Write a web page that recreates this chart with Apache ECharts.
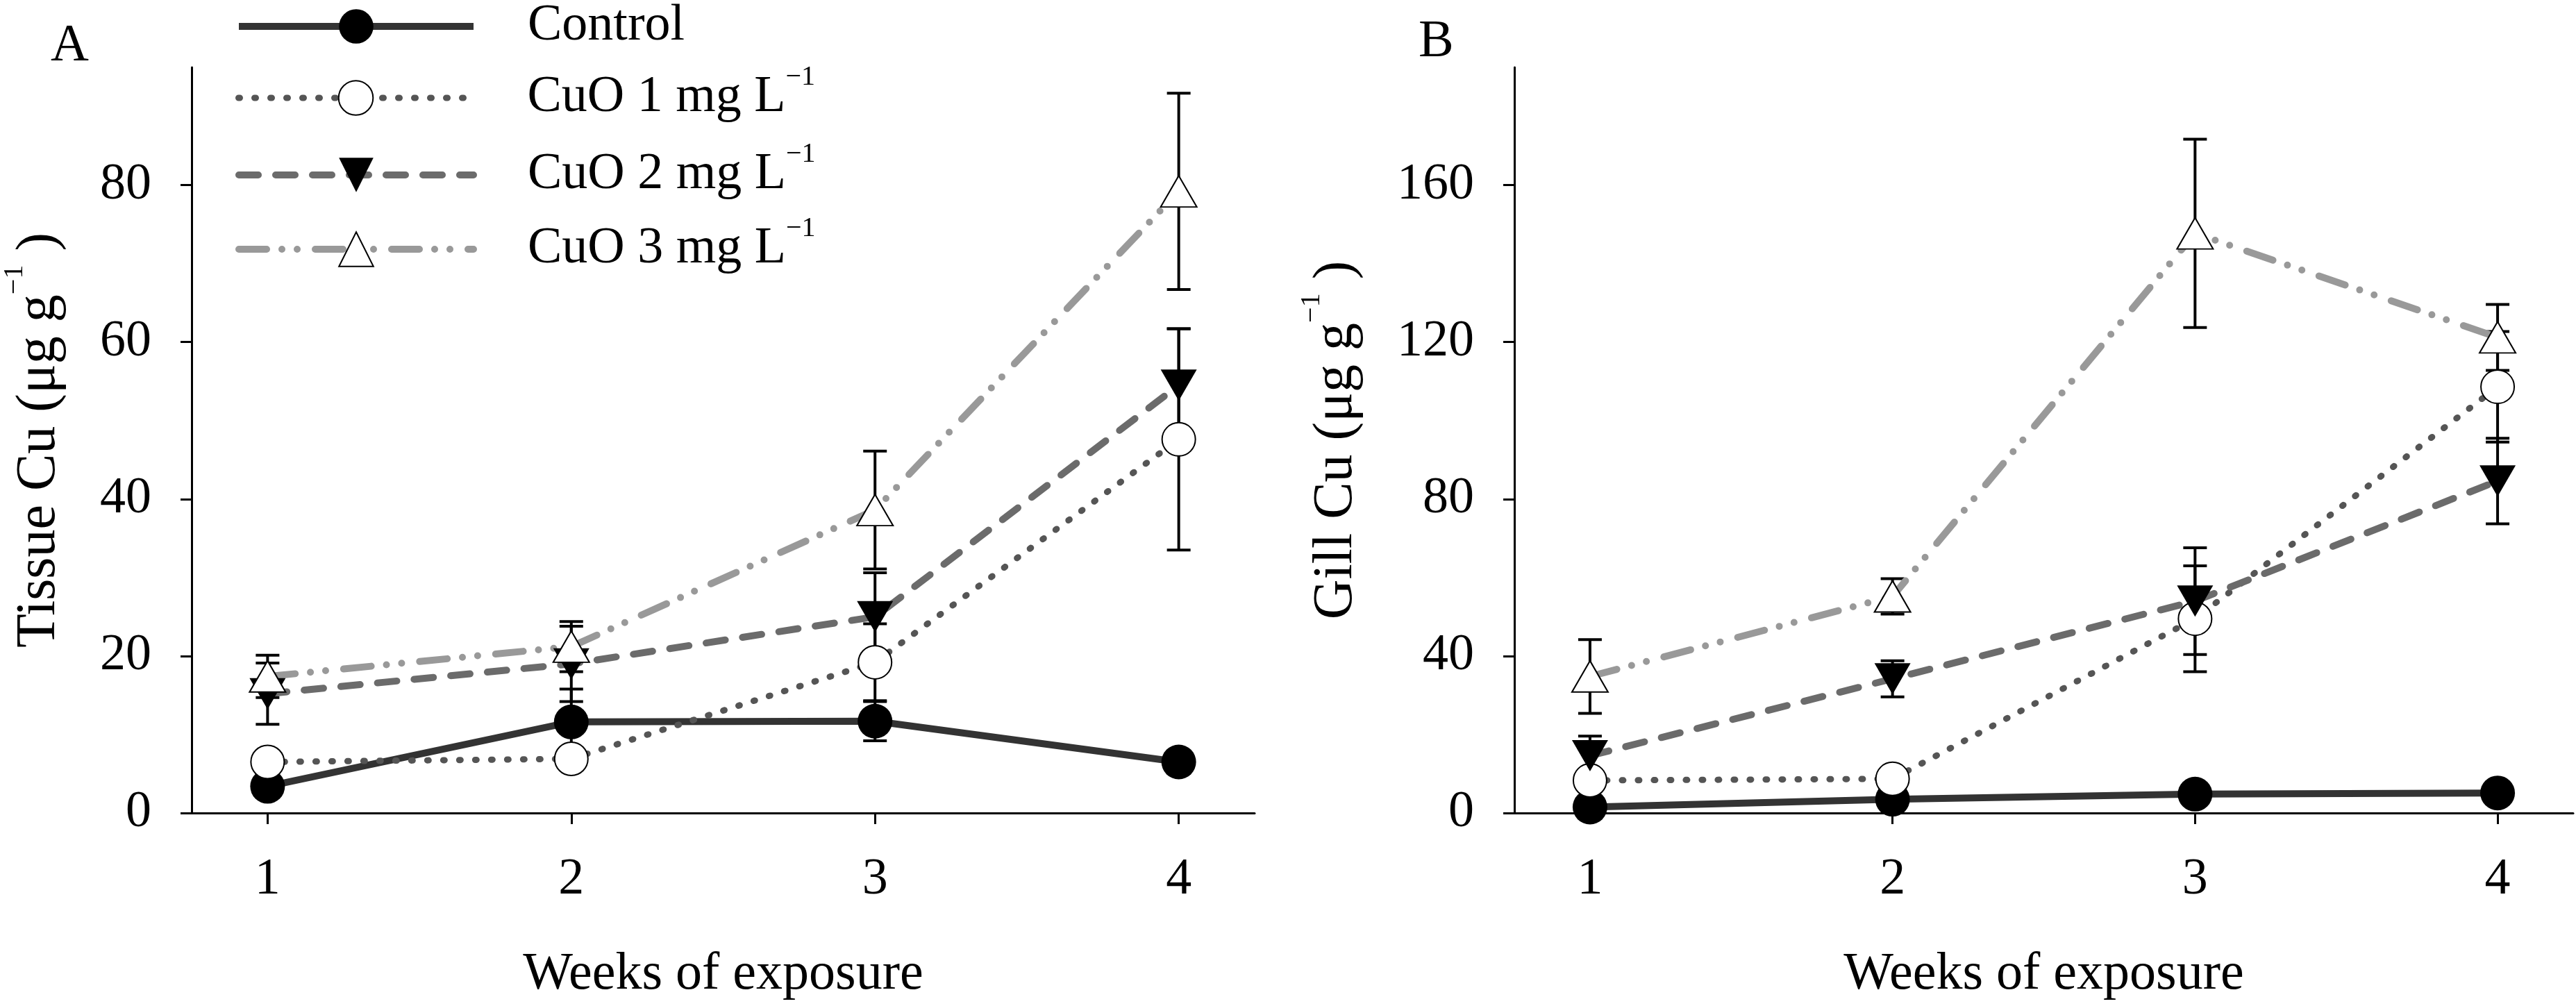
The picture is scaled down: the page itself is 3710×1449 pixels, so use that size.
<!DOCTYPE html>
<html>
<head>
<meta charset="utf-8">
<script src="https://cdn.jsdelivr.net/npm/echarts@6/dist/echarts.min.js"></script>
<style>
  html, body { margin: 0; padding: 0; background: #fff; }
  #chart { width: 3710px; height: 1449px; }
</style>
</head>
<body>
<div id="chart"></div>
<script>
// weeks of exposure
var weeks = [1, 2, 3, 4];
var xTicks = [1, 2, 3, 4];
var tissueTicks = [0, 20, 40, 60, 80];
var gillTicks = [0, 40, 80, 120, 160];
var seriesNames = ["Control", "CuO 1 mg L−1", "CuO 2 mg L−1", "CuO 3 mg L−1"];

// A: tissue Cu (mean, SE)
var tissueControl = [3.4, 11.6, 11.7, 6.5];
var tissueControlSE = [0.6, 4.2, 2.5, 0.8];
var tissueCuO1 = [6.5, 6.9, 19.2, 47.6];
var tissueCuO1SE = [0.9, 0.8, 4.9, 14.1];
var tissueCuO2 = [15.2, 19.0, 25.0, 54.5];
var tissueCuO2SE = [3.9, 4.8, 5.6, 7.2];
var tissueCuO3 = [17.4, 21.2, 38.6, 79.2];
var tissueCuO3SE = [2.7, 3.2, 7.5, 12.5];

// B: gill Cu (mean, SE)
var gillControl = [1.5, 3.5, 4.8, 5.1];
var gillControlSE = [0.8, 0.8, 1.0, 1.0];
var gillCuO1 = [8.3, 8.7, 49.5, 108.6];
var gillCuO1SE = [1.5, 1.5, 13.5, 14.1];
var gillCuO2 = [14.6, 34.2, 54.0, 84.6];
var gillCuO2SE = [5.0, 4.6, 13.6, 10.9];
var gillCuO3 = [34.8, 55.2, 147.7, 121.2];
var gillCuO3SE = [9.4, 4.5, 24.0, 8.4];

var FONT = "'Liberation Serif', 'Times New Roman', serif";
var myChart = echarts.init(document.getElementById("chart"));

// look of each treatment
var styles = [
  { line: { color: "#333", width: 10, type: "solid" },
    symbol: "circle", size: 50, item: { color: "#000" } },
  { line: { color: "#555", width: 9, type: [2, 21], cap: "round" },
    symbol: "circle", size: 48, item: { color: "#fff", borderColor: "#000", borderWidth: 2 } },
  { line: { color: "#6b6b6b", width: 10, type: [28, 25], cap: "round" },
    symbol: "path://M0,0 L10,0 L5,8.66 Z", size: [52, 45], item: { color: "#000" } },
  { line: { color: "#999", width: 10, type: [40, 22, 0, 22, 0, 26], cap: "round" },
    symbol: "triangle", size: [52, 45], item: { color: "#fff", borderColor: "#000", borderWidth: 2 } }
];

function pairs(v) {
  return weeks.map(function(w, i) { return [w, v[i]]; });
}
function bars(v, e) {
  return weeks.map(function(w, i) { return [w, v[i] - e[i], v[i] + e[i]]; });
}

// error bar: vertical line + two caps
function renderErr(params, api) {
  var x = api.value(0);
  var lo = api.coord([x, api.value(1)]);
  var hi = api.coord([x, api.value(2)]);
  var hw = 17;
  var st = { stroke: "#000", lineWidth: 4 };
  return {
    type: "group",
    children: [
      { type: "line", shape: { x1: hi[0], y1: hi[1], x2: lo[0], y2: lo[1] }, style: st },
      { type: "line", shape: { x1: hi[0] - hw, y1: hi[1], x2: hi[0] + hw, y2: hi[1] }, style: st },
      { type: "line", shape: { x1: lo[0] - hw, y1: lo[1], x2: lo[0] + hw, y2: lo[1] }, style: st }
    ]
  };
}

var series = [];
function addPanel(idx, means, ses) {
  means.forEach(function(m, k) {
    var s = styles[k];
    series.push({
      name: seriesNames[k],
      type: "line",
      xAxisIndex: idx,
      yAxisIndex: idx,
      data: pairs(m),
      symbol: s.symbol,
      symbolSize: s.size,
      lineStyle: s.line,
      itemStyle: s.item,
      emphasis: { disabled: true },
      clip: false
    });
    series.push({
      name: "se" + idx + "_" + k,
      type: "custom",
      xAxisIndex: idx,
      yAxisIndex: idx,
      data: bars(m, ses[k]),
      encode: { x: 0, y: [1, 2] },
      renderItem: renderErr,
      clip: false
    });
  });
}
addPanel(0, [tissueControl, tissueCuO1, tissueCuO2, tissueCuO3],
  [tissueControlSE, tissueCuO1SE, tissueCuO2SE, tissueCuO3SE]);
addPanel(1, [gillControl, gillCuO1, gillCuO2, gillCuO3],
  [gillControlSE, gillCuO1SE, gillCuO2SE, gillCuO3SE]);

var supRich = { sup: { fontSize: 40, lineHeight: 40, verticalAlign: "top", fontFamily: FONT, color: "#000" } };

function xAxis(idx) {
  return {
    type: "value", gridIndex: idx, min: 0.75, max: 4.25,
    name: "Weeks of exposure", nameLocation: "middle", nameGap: 193,
    nameMoveOverlap: false,
    nameTextStyle: { fontFamily: FONT, fontSize: 76, color: "#000", lineHeight: 80 },
    axisLine: { onZero: false, lineStyle: { color: "#000", width: 3 } },
    axisTick: { customValues: xTicks, length: 16, lineStyle: { color: "#000", width: 3 } },
    axisLabel: { customValues: xTicks, margin: 60, fontFamily: FONT, fontSize: 74, color: "#000" },
    splitLine: { show: false }
  };
}
function yAxis(idx, max, ticks, title, gap) {
  return {
    type: "value", gridIndex: idx, min: 0, max: max,
    name: title, nameLocation: "middle", nameGap: gap,
    nameMoveOverlap: false,
    nameTextStyle: { fontFamily: FONT, fontSize: 80, color: "#000", lineHeight: 112, rich: supRich },
    axisLine: { show: true, onZero: false, lineStyle: { color: "#000", width: 3 } },
    axisTick: { show: true, customValues: ticks, length: 16, lineStyle: { color: "#000", width: 3 } },
    axisLabel: { customValues: ticks, margin: 58, fontFamily: FONT, fontSize: 74, color: "#000" },
    splitLine: { show: false }
  };
}

var legendCenters = [33, 136, 247, 354];
var legends = seriesNames.map(function(n, i) {
  return {
    data: [n],
    orient: "vertical",
    left: 334,
    top: legendCenters[i] - 50,
    itemWidth: 338,
    itemHeight: 62,
    selectedMode: false,
    lineStyle: { width: styles[i].line.width },
    formatter: function(name) { return name.replace("−1", "{sup|−1}"); },
    textStyle: {
      fontFamily: FONT, fontSize: 74, color: "#000", lineHeight: 100,
      padding: [0, 0, 0, 73], rich: supRich
    }
  };
});

var option = {
  animation: false,
  backgroundColor: "#fff",
  title: [
    { text: "A", left: 68, top: 24, textStyle: { fontFamily: FONT, fontSize: 76, fontWeight: "normal", color: "#000" } },
    { text: "B", left: 2038, top: 18, textStyle: { fontFamily: FONT, fontSize: 76, fontWeight: "normal", color: "#000" } }
  ],
  legend: legends,
  grid: [
    { left: 271, right: 1903, top: 97, bottom: 274 },
    { left: 2181, right: 4, top: 97, bottom: 274 }
  ],
  xAxis: [xAxis(0), xAxis(1)],
  yAxis: [
    yAxis(0, 95, tissueTicks, "Tissue Cu (μg g{sup|−1} )", 163),
    yAxis(1, 190, gillTicks, "Gill Cu (μg g{sup|−1} )", 200)
  ],
  series: series
};

myChart.setOption(option);
window.addEventListener("resize", function() {
  myChart.resize();
});
</script>
</body>
</html>
